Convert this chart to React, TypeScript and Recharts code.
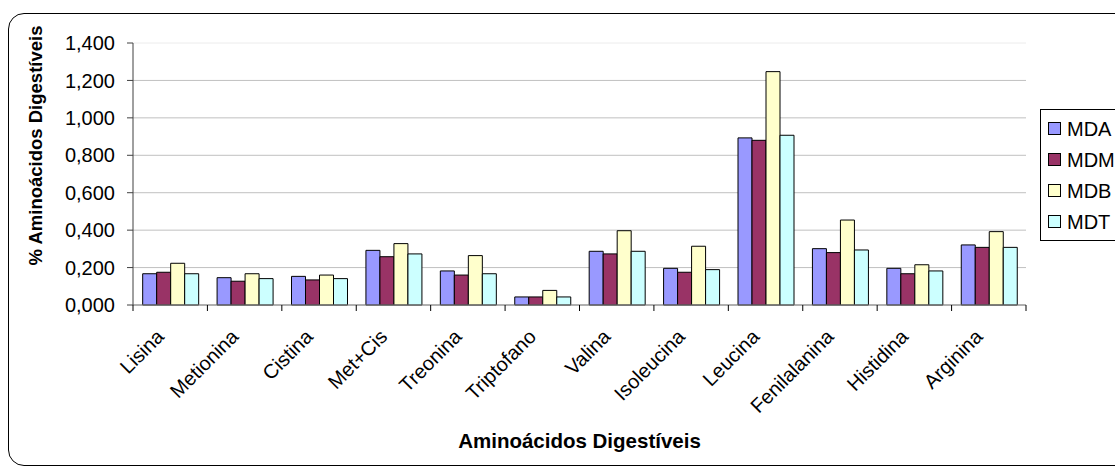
import React from 'react';
import { BarChart, Bar, XAxis, YAxis, CartesianGrid, Label } from 'recharts';

const categories = ['Lisina', 'Metionina', 'Cistina', 'Met+Cis', 'Treonina', 'Triptofano', 'Valina', 'Isoleucina', 'Leucina', 'Fenilalanina', 'Histidina', 'Arginina'];
const mda = [0.167, 0.146, 0.153, 0.292, 0.182, 0.043, 0.287, 0.196, 0.893, 0.301, 0.196, 0.321];
const mdm = [0.175, 0.127, 0.134, 0.258, 0.160, 0.043, 0.273, 0.175, 0.880, 0.280, 0.167, 0.308];
const mdb = [0.223, 0.167, 0.160, 0.328, 0.264, 0.078, 0.397, 0.314, 1.247, 0.454, 0.215, 0.392];
const mdt = [0.167, 0.141, 0.141, 0.273, 0.167, 0.043, 0.287, 0.189, 0.907, 0.294, 0.182, 0.308];
const yTicks = [0, 0.2, 0.4, 0.6, 0.8, 1.0, 1.2, 1.4];
const seriesNames = ['MDA', 'MDM', 'MDB', 'MDT'];
const seriesColors = ['#9999FF', '#993366', '#FFFFCC', '#CCFFFF'];

const data = categories.map((c, i) => ({ name: c, MDA: mda[i], MDM: mdm[i], MDB: mdb[i], MDT: mdt[i] }));

const FONT = 'Arial, "Liberation Sans", sans-serif';

const fmt = (v: number) => v.toFixed(3).replace('.', ',');

const XTick = (props: any) => {
  const { x, y, payload, index, width } = props;
  const band = width / categories.length;
  return (
    <g>
      <line x1={x - band / 2} y1={y - 8} x2={x - band / 2} y2={y - 2} stroke="#000" strokeWidth={1} />
      {index === categories.length - 1 && (
        <line x1={x + band / 2} y1={y - 8} x2={x + band / 2} y2={y - 2} stroke="#000" strokeWidth={1} />
      )}
      <g transform={`translate(${x - 5},${y + 25})`}>
        <text textAnchor="end" transform="rotate(-45)" fontFamily={FONT} fontSize={20} fill="#000">
          {payload.value}
        </text>
      </g>
    </g>
  );
};

const LegendBox = () => (
  <div style={{ position: 'absolute', left: 1040, top: 109, border: '1px solid #000', background: '#fff', padding: '3px 0 3px 0', width: 110, boxSizing: 'border-box', fontFamily: FONT }}>
    {seriesNames.map((n, i) => (
      <div key={n} style={{ height: 31, display: 'flex', alignItems: 'center', paddingLeft: 7 }}>
        <span style={{ width: 11, height: 11, border: '1px solid #000', background: seriesColors[i], display: 'inline-block', flex: '0 0 auto' }} />
        <span style={{ marginLeft: 6, fontSize: 20, color: '#000', lineHeight: '20px', whiteSpace: 'nowrap' }}>{n}</span>
      </div>
    ))}
  </div>
);

const GridLine = (p: any) => (
  <line x1={p.x1} y1={p.y1} x2={p.x2} y2={p.y2} stroke={p.y1 < 40 ? '#ececec' : '#c0c0c0'} strokeWidth={1} />
);

export default function App() {
  return (
    <div style={{ position: 'fixed', left: 0, top: 0, width: 1115, height: 470, overflow: 'hidden', background: '#fff' }}>
      <div style={{ position: 'absolute', left: 8, top: 13, width: 1130, height: 453, border: '1px solid #000', borderRadius: 16, boxSizing: 'border-box' }} />
      <div style={{ position: 'absolute', left: 8, top: 8 }}>
        <BarChart width={1107} height={462} data={data} margin={{ top: 35, right: 89, left: 0, bottom: 0 }} barCategoryGap="13%" barGap={0}>
          <CartesianGrid vertical={false} horizontal={GridLine} />
          <XAxis dataKey="name" height={165} tick={<XTick />} tickLine={false} axisLine={{ stroke: '#808080' }} interval={0}>
            <Label
              content={(p: any) => (
                <text x={p.viewBox.x + p.viewBox.width / 2} y={440} textAnchor="middle" fontFamily={FONT} fontSize={20.5} fontWeight="bold" fill="#000">
                  Aminoácidos Digestíveis
                </text>
              )}
            />
          </XAxis>
          <YAxis
            width={125}
            domain={[0, 1.4]}
            ticks={yTicks}
            tickFormatter={fmt}
            tickSize={6}
            tickMargin={12}
            interval={0}
            axisLine={{ stroke: '#404040' }}
            tickLine={{ stroke: '#404040' }}
            tick={{ fontFamily: FONT, fontSize: 20, fill: '#000' }}
          >
            <Label
              content={() => (
                <text x={34} y={137.5} transform="rotate(-90 34 137.5)" textAnchor="middle" fontFamily={FONT} fontSize={18.5} fontWeight="bold" fill="#000">
                  % Aminoácidos Digestíveis
                </text>
              )}
            />
          </YAxis>
          {seriesNames.map((n, i) => (
            <Bar key={n} dataKey={n} fill={seriesColors[i]} stroke="#000" strokeWidth={1} isAnimationActive={false} />
          ))}
        </BarChart>
      </div>
      <LegendBox />
    </div>
  );
}
